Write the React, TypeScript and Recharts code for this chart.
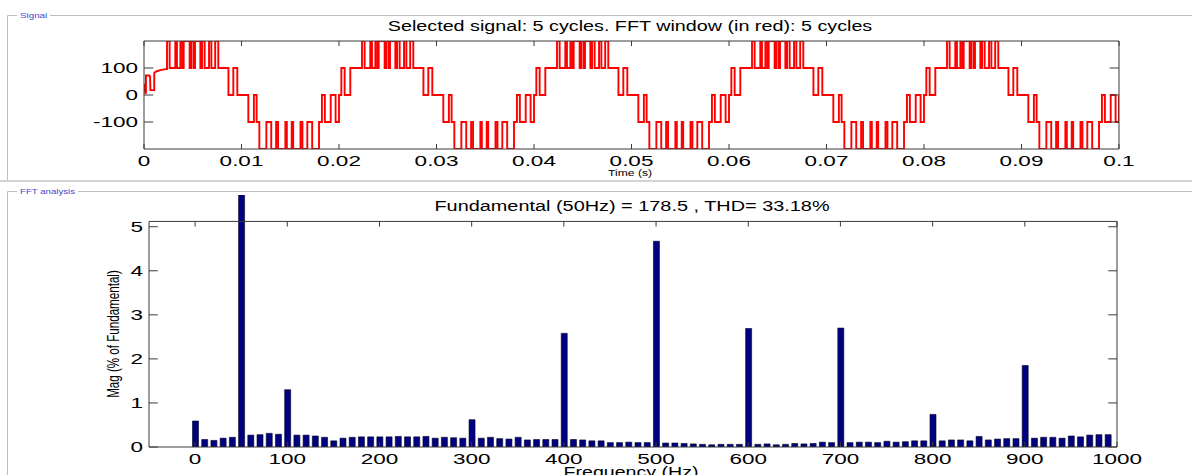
import React from 'react';
import { LineChart, Line, XAxis, YAxis, ReferenceLine, BarChart, Bar } from 'recharts';

const FONT = '"Liberation Sans", Arial, Helvetica, sans-serif';
const AX = '#3a3a3a';
const SX = 1.45;

// ---------- FFT spectrum (bottom panel) ----------
const freqs = [
  0, 10, 20, 30, 40, 50, 60, 70, 80, 90,
  100, 110, 120, 130, 140, 150, 160, 170, 180, 190,
  200, 210, 220, 230, 240, 250, 260, 270, 280, 290,
  300, 310, 320, 330, 340, 350, 360, 370, 380, 390,
  400, 410, 420, 430, 440, 450, 460, 470, 480, 490,
  500, 510, 520, 530, 540, 550, 560, 570, 580, 590,
  600, 610, 620, 630, 640, 650, 660, 670, 680, 690,
  700, 710, 720, 730, 740, 750, 760, 770, 780, 790,
  800, 810, 820, 830, 840, 850, 860, 870, 880, 890,
  900, 910, 920, 930, 940, 950, 960, 970, 980, 990,
];
const mags = [
  0.59, 0.17, 0.15, 0.20, 0.22, 100, 0.27, 0.28, 0.31, 0.29,
  1.30, 0.27, 0.27, 0.25, 0.22, 0.14, 0.20, 0.22, 0.23, 0.23,
  0.23, 0.23, 0.24, 0.23, 0.23, 0.24, 0.20, 0.22, 0.21, 0.20,
  0.62, 0.20, 0.22, 0.19, 0.18, 0.22, 0.16, 0.17, 0.17, 0.17,
  2.58, 0.17, 0.16, 0.14, 0.14, 0.10, 0.10, 0.11, 0.10, 0.10,
  4.67, 0.09, 0.09, 0.08, 0.07, 0.06, 0.05, 0.06, 0.06, 0.06,
  2.69, 0.06, 0.07, 0.05, 0.06, 0.08, 0.07, 0.08, 0.11, 0.10,
  2.70, 0.10, 0.11, 0.11, 0.10, 0.13, 0.11, 0.12, 0.14, 0.14,
  0.74, 0.14, 0.16, 0.16, 0.14, 0.24, 0.16, 0.18, 0.19, 0.19,
  1.85, 0.20, 0.22, 0.22, 0.20, 0.25, 0.23, 0.27, 0.28, 0.28,
];
const fftXTicks = [0, 100, 200, 300, 400, 500, 600, 700, 800, 900, 1000];
const fftYTicks = [0, 1, 2, 3, 4, 5];
const FFT_X_MIN = -50;
const FFT_X_MAX = 1000;
const FFT_Y_TOP = 5.12; // visible axes box top
const FFT_Y_CLIP = 5.72; // top of drawing area (bar overflow region)

// ---------- Signal (top panel) ----------
const timeTicks = [0, 0.01, 0.02, 0.03, 0.04, 0.05, 0.06, 0.07, 0.08, 0.09, 0.1];
const timeTickLabels = ['0', '0.01', '0.02', '0.03', '0.04', '0.05', '0.06', '0.07', '0.08', '0.09', '0.1'];
const signalYTicks = [-100, 0, 100];
const signalYLabels = ['-100', '0', '100'];

// start-up transient (ms, value)
const startupMs = [0, 0.06, 0.12, 0.2, 0.2, 0.55, 0.62, 0.66, 1.05, 1.05, 1.3, 1.7, 2.2, 2.36, 2.36];
const startupLevel = [42, 35, 8, 8, 72, 72, 68, 18, 18, 82, 88, 92, 96, 96, 200];

// one steady-state cycle of switching events (ms from cycle start, level)
const cycleMs = [
  0, 0.24, 0.58, 1.16, 2.36, 2.63, 3.21, 3.38, 3.73, 3.93, 4.07, 4.68, 4.85, 5.09, 5.23, 5.78,
  5.95, 6.22, 6.67, 6.91, 7.30, 7.62, 8.66, 9.16, 9.57,
  10.70, 11.27, 11.55, 11.83, 12.55, 13.05, 13.55, 13.75, 14.50, 14.65, 15.15, 15.30, 16.05,
  16.25, 16.75, 17.25, 17.95, 18.25, 18.55, 19.15, 19.65,
];
const cycleLevel = [
  0, 100, 0, 100, 200, 100, 200, 100, 200, 100, 200, 100, 200, 100, 200, 100,
  200, 100, 200, 100, 200, 100, 0, 100, 0,
  -100, 0, -100, -200, -100, -200, -100, -200, -100, -200, -100, -200, -100,
  -200, -100, -200, -100, 0, -100, 0, -100,
];
const cycleStartsMs = [0, 20, 40, 60, 80];
const startupEndMs = 2.36;
const signalEnd = { ms: 100, level: 0 };

function buildStepData() {
  const out: { t: number; v: number }[] = [];
  cycleStartsMs.forEach((c0, k) => {
    cycleMs.forEach((ms, i) => {
      if (k === 0 && ms < startupEndMs) return;
      out.push({ t: (c0 + ms) / 1000, v: cycleLevel[i] });
    });
  });
  out.push({ t: signalEnd.ms / 1000, v: signalEnd.level });
  return out;
}

// ---------- tick renderers ----------
const StretchText = ({ x, y, size, anchor, children, sx = SX, fill = '#000' }: any) => (
  <g transform={`translate(${x},${y}) scale(${sx},1)`}>
    <text x={0} y={0} textAnchor={anchor} fontSize={size} fontFamily={FONT} fill={fill}>
      {children}
    </text>
  </g>
);

const renderTimeTick = (p: any) => {
  const idx = timeTicks.findIndex((t) => Math.abs(t - p.payload.value) < 1e-9);
  const label = idx >= 0 ? timeTickLabels[idx] : String(p.payload.value);
  return (
    <g transform={`translate(${p.x},${p.y + 16.5}) scale(1.5,1)`}>
      <text x={0} y={0} textAnchor="middle" fontSize={15} fontFamily={FONT} fill="#000">{label}</text>
    </g>
  );
};
const renderSigYTick = (p: any) => {
  const idx = signalYTicks.indexOf(p.payload.value);
  const label = idx >= 0 ? signalYLabels[idx] : String(p.payload.value);
  return (
    <g transform={`translate(${p.x - 6},${p.y + 5.4}) scale(1.5,1)`}>
      <text x={0} y={0} textAnchor="end" fontSize={15} fontFamily={FONT} fill="#000">{label}</text>
    </g>
  );
};
const renderFreqTick = (p: any) => (
  <g transform={`translate(${p.x},${p.y + 16.5}) scale(1.5,1)`}>
    <text x={0} y={0} textAnchor="middle" fontSize={15} fontFamily={FONT} fill="#000">{String(p.payload.value)}</text>
  </g>
);
const renderMagTick = (p: any) => (
  <g transform={`translate(${p.x - 6},${p.y + 5.4}) scale(1.5,1)`}>
    <text x={0} y={0} textAnchor="end" fontSize={15} fontFamily={FONT} fill="#000">{String(p.payload.value)}</text>
  </g>
);

export default function App() {
  const stepData = buildStepData();
  const startupData = startupMs.map((ms, i) => ({ t: ms / 1000, v: startupLevel[i] }));
  const fftData = freqs.map((f, i) => ({ f, m: mags[i] }));

  const tLen = 0.00095; // signal y-tick length (s)
  const vLen = 18.5; // signal x-tick length (value units)
  const fLen = 9.5; // fft y-tick length (Hz)
  const mLen = 0.115; // fft x-tick length (mag units)

  return (
    <div style={{ position: 'absolute', left: 0, top: 0, width: 1192, height: 475, background: '#fff', overflow: 'hidden' }}>
      <div style={{ position: 'absolute', left: 0, top: 0 }}>
        <LineChart width={1192} height={180} margin={{ top: 41, right: 73, bottom: 1, left: 84 }}>
          <XAxis
            dataKey="t"
            type="number"
            domain={[0, 0.1]}
            ticks={timeTicks}
            interval={0}
            allowDataOverflow
            height={30}
            tickSize={0}
            tickMargin={0}
            tickLine={false}
            axisLine={{ stroke: AX, strokeWidth: 1 }}
            tick={renderTimeTick}
          />
          <YAxis
            type="number"
            domain={[-200, 200]}
            ticks={signalYTicks}
            interval={0}
            allowDataOverflow
            width={60}
            tickSize={0}
            tickMargin={0}
            tickLine={false}
            axisLine={{ stroke: AX, strokeWidth: 1 }}
            tick={renderSigYTick}
          />
          <Line data={startupData} dataKey="v" type="linear" stroke="#ff0000" strokeWidth={1.9} dot={false} activeDot={false} isAnimationActive={false} />
          <Line data={stepData} dataKey="v" type="stepAfter" stroke="#ff0000" strokeWidth={1.9} dot={false} activeDot={false} isAnimationActive={false} />
          <ReferenceLine y={200} stroke={AX} strokeWidth={1} />
          <ReferenceLine x={0.1} stroke={AX} strokeWidth={1} />
          {timeTicks.map((t) => (
            <ReferenceLine key={'tb' + t} segment={[{ x: t, y: -200 }, { x: t, y: -200 + vLen }]} stroke={AX} />
          ))}
          {timeTicks.map((t) => (
            <ReferenceLine key={'tt' + t} segment={[{ x: t, y: 200 }, { x: t, y: 200 - vLen }]} stroke={AX} />
          ))}
          {signalYTicks.map((v) => (
            <ReferenceLine key={'yl' + v} segment={[{ x: 0, y: v }, { x: tLen, y: v }]} stroke={AX} />
          ))}
          {signalYTicks.map((v) => (
            <ReferenceLine key={'yr' + v} segment={[{ x: 0.1 - tLen, y: v }, { x: 0.1, y: v }]} stroke={AX} />
          ))}
        </LineChart>
      </div>

      <div style={{ position: 'absolute', left: 0, top: 180 }}>
        <BarChart width={1192} height={295} data={fftData} margin={{ top: 15, right: 75, bottom: 0, left: 89 }} barSize={6}>
          <XAxis
            dataKey="f"
            type="number"
            domain={[FFT_X_MIN, FFT_X_MAX]}
            ticks={fftXTicks}
            interval={0}
            allowDataOverflow
            height={28}
            tickSize={0}
            tickMargin={0}
            tickLine={false}
            axisLine={{ stroke: AX, strokeWidth: 1 }}
            tick={renderFreqTick}
          />
          <YAxis
            type="number"
            domain={[0, FFT_Y_CLIP]}
            ticks={fftYTicks}
            interval={0}
            allowDataOverflow
            width={60}
            tickSize={0}
            tickMargin={0}
            tickLine={false}
            axisLine={false}
            tick={renderMagTick}
          />
          <Bar dataKey="m" fill="#000080" stroke="#00001e" strokeWidth={0.6} isAnimationActive={false} />
          <ReferenceLine y={FFT_Y_TOP} stroke={AX} strokeWidth={1} />
          <ReferenceLine segment={[{ x: FFT_X_MIN, y: 0 }, { x: FFT_X_MIN, y: FFT_Y_TOP }]} stroke={AX} />
          <ReferenceLine segment={[{ x: FFT_X_MAX, y: 0 }, { x: FFT_X_MAX, y: FFT_Y_TOP }]} stroke={AX} />
          {fftXTicks.map((f) => (
            <ReferenceLine key={'ft' + f} segment={[{ x: f, y: FFT_Y_TOP }, { x: f, y: FFT_Y_TOP - mLen }]} stroke={AX} />
          ))}
          {fftXTicks.map((f) => (
            <ReferenceLine key={'fb' + f} segment={[{ x: f, y: 0 }, { x: f, y: mLen }]} stroke={AX} />
          ))}
          {fftYTicks.map((m) => (
            <ReferenceLine key={'ml' + m} segment={[{ x: FFT_X_MIN, y: m }, { x: FFT_X_MIN + fLen, y: m }]} stroke={AX} />
          ))}
          {fftYTicks.map((m) => (
            <ReferenceLine key={'mr' + m} segment={[{ x: FFT_X_MAX - fLen, y: m }, { x: FFT_X_MAX, y: m }]} stroke={AX} />
          ))}
        </BarChart>
      </div>

      <svg width={1192} height={475} style={{ position: 'absolute', left: 0, top: 0, pointerEvents: 'none' }}>
        <g fill="none" stroke="#bdbdbd" strokeWidth={1}>
          <path d="M7.5 181 V15.5 H17 M50 15.5 H1192" />
          <path d="M7.5 475 V191.5 H17 M78 191.5 H1192" />
        </g>
        <path d="M0 181 H1192" stroke="#d4d4d4" strokeWidth={2} />
        <StretchText x={20} y={17.5} size={7} anchor="start" sx={1.4} fill="#4848d0">Signal</StretchText>
        <StretchText x={20} y={193.5} size={7} anchor="start" sx={1.38} fill="#4848d0">FFT analysis</StretchText>
        <StretchText x={630} y={30.5} size={14} anchor="middle" sx={1.41}>
          Selected signal: 5 cycles. FFT window (in red): 5 cycles
        </StretchText>
        <StretchText x={630} y={175.5} size={9} anchor="middle" sx={1.35}>Time (s)</StretchText>
        <StretchText x={632} y={210.7} size={14} anchor="middle" sx={1.42}>
          Fundamental (50Hz) = 178.5 , THD= 33.18%
        </StretchText>
        <StretchText x={631} y={476.5} size={14} anchor="middle" sx={1.4}>Frequency (Hz)</StretchText>
        <g transform="translate(119,334) rotate(-90) scale(1,1.42)">
          <text x={0} y={0} textAnchor="middle" fontSize={11.6} fontFamily={FONT} fill="#000">
            Mag (% of Fundamental)
          </text>
        </g>
      </svg>
    </div>
  );
}
